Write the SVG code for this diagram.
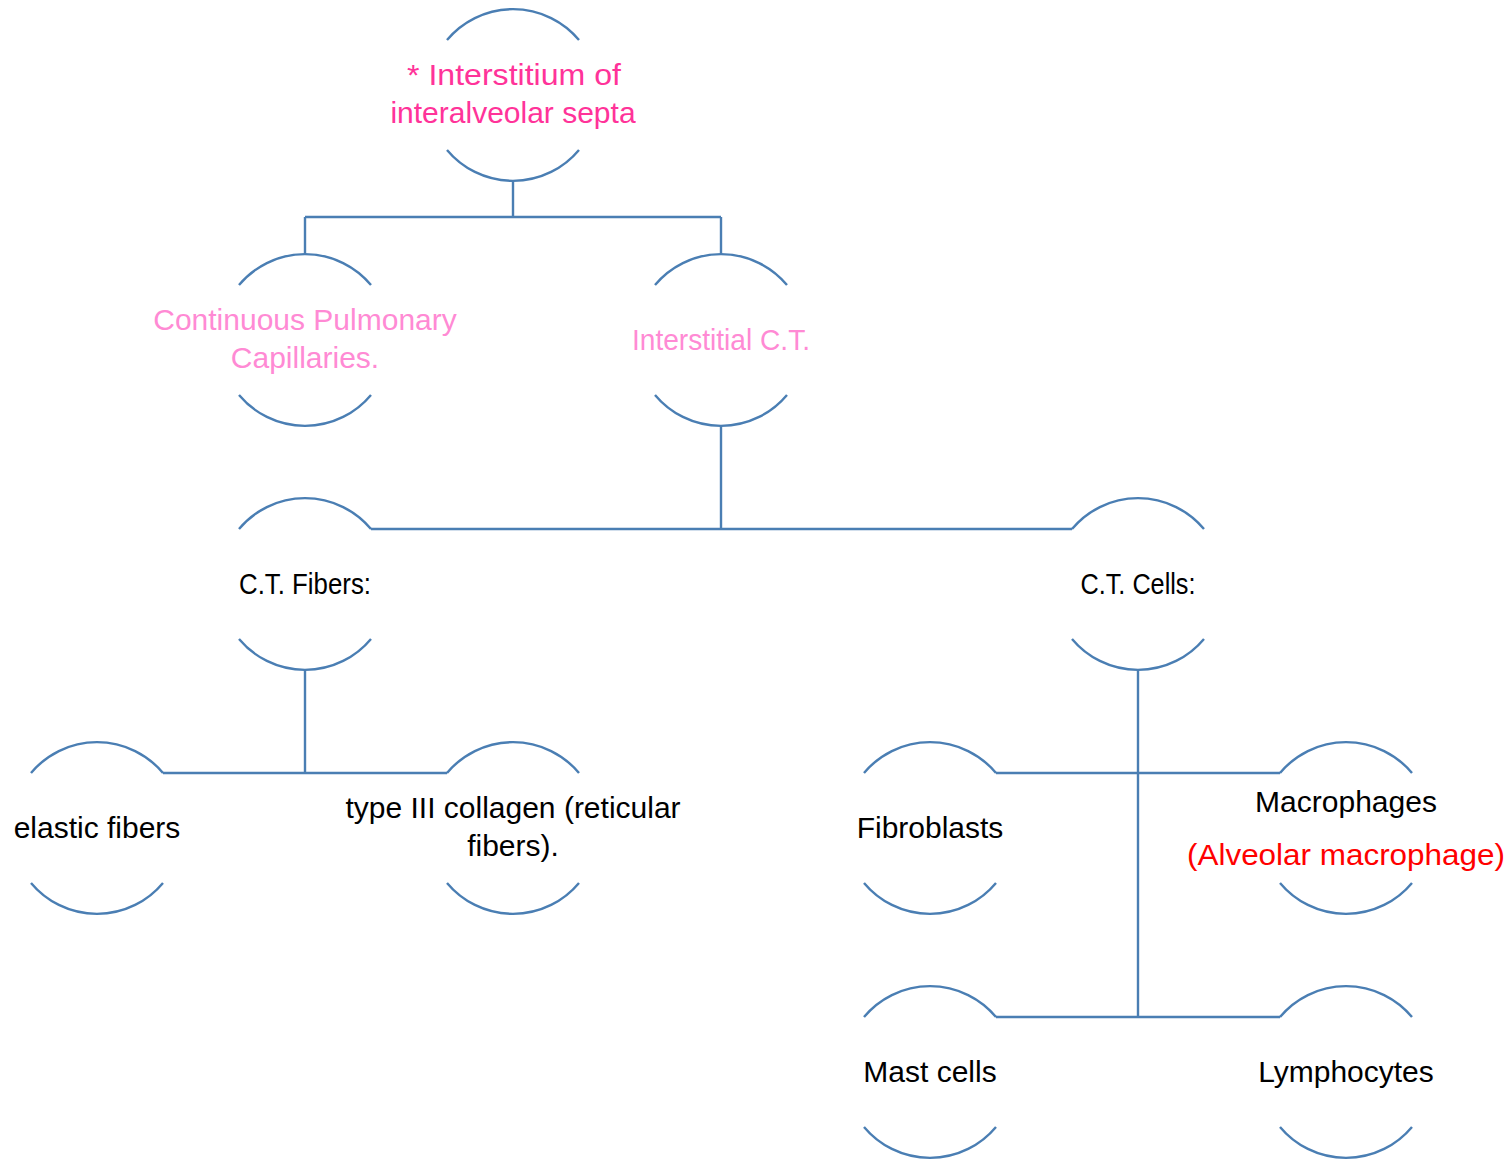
<svg xmlns="http://www.w3.org/2000/svg" width="1509" height="1160" viewBox="0 0 1509 1160">
<style>
.arc{fill:none;stroke:#4a7eb3;stroke-width:2.4}
.con{fill:none;stroke:#4a7eb3;stroke-width:2.4}
text{font-family:"Liberation Sans",Arial,sans-serif;font-size:30px;text-anchor:middle}
.t1{fill:#ff3399}
.t2{fill:#ff8ad4}
.tb{fill:#000}
.tr{fill:#ff0000}
</style>
<rect width="1509" height="1160" fill="#fff"/>
<g id="connectors">
<path class="con" d="M513 181V217M305 217H721M305 217V254M721 217V254"/>
<path class="con" d="M721 426V529M371 529H1072"/>
<path class="con" d="M305 670V773M163 773H447"/>
<path class="con" d="M1138 670V1017M996 773H1280M996 1017H1280"/>
</g>
<g id="n1"><path class="arc" d="M447 40A86 86 0 0 1 579 40M447 150A86 86 0 0 0 579 150"/>
<text class="t1" x="514" y="85" textLength="214" lengthAdjust="spacingAndGlyphs">* Interstitium of</text><text class="t1" x="513" y="123">interalveolar septa</text></g>
<g id="n2"><path class="arc" d="M239 285A86 86 0 0 1 371 285M239 395A86 86 0 0 0 371 395"/>
<text class="t2" x="305" y="330">Continuous Pulmonary</text><text class="t2" x="305" y="368">Capillaries.</text></g>
<g id="n3"><path class="arc" d="M655 285A86 86 0 0 1 787 285M655 395A86 86 0 0 0 787 395"/>
<text class="t2" x="721" y="350" textLength="178" lengthAdjust="spacingAndGlyphs">Interstitial C.T.</text></g>
<g id="n4"><path class="arc" d="M239 529A86 86 0 0 1 371 529M239 639A86 86 0 0 0 371 639"/>
<text class="tb" x="305" y="594" textLength="132" lengthAdjust="spacingAndGlyphs">C.T. Fibers:</text></g>
<g id="n5"><path class="arc" d="M1072 529A86 86 0 0 1 1204 529M1072 639A86 86 0 0 0 1204 639"/>
<text class="tb" x="1138" y="594" textLength="115" lengthAdjust="spacingAndGlyphs">C.T. Cells:</text></g>
<g id="n6"><path class="arc" d="M31 773A86 86 0 0 1 163 773M31 883A86 86 0 0 0 163 883"/>
<text class="tb" x="97" y="838">elastic fibers</text></g>
<g id="n7"><path class="arc" d="M447 773A86 86 0 0 1 579 773M447 883A86 86 0 0 0 579 883"/>
<text class="tb" x="513" y="818">type III collagen (reticular</text><text class="tb" x="513" y="856">fibers).</text></g>
<g id="n8"><path class="arc" d="M864 773A86 86 0 0 1 996 773M864 883A86 86 0 0 0 996 883"/>
<text class="tb" x="930" y="838">Fibroblasts</text></g>
<g id="n9"><path class="arc" d="M1280 773A86 86 0 0 1 1412 773M1280 883A86 86 0 0 0 1412 883"/>
<text class="tb" x="1346" y="812">Macrophages</text><text class="tr" x="1346" y="865" textLength="318" lengthAdjust="spacingAndGlyphs">(Alveolar macrophage)</text></g>
<g id="n10"><path class="arc" d="M864 1017A86 86 0 0 1 996 1017M864 1127A86 86 0 0 0 996 1127"/>
<text class="tb" x="930" y="1082">Mast cells</text></g>
<g id="n11"><path class="arc" d="M1280 1017A86 86 0 0 1 1412 1017M1280 1127A86 86 0 0 0 1412 1127"/>
<text class="tb" x="1346" y="1082">Lymphocytes</text></g>
</svg>
